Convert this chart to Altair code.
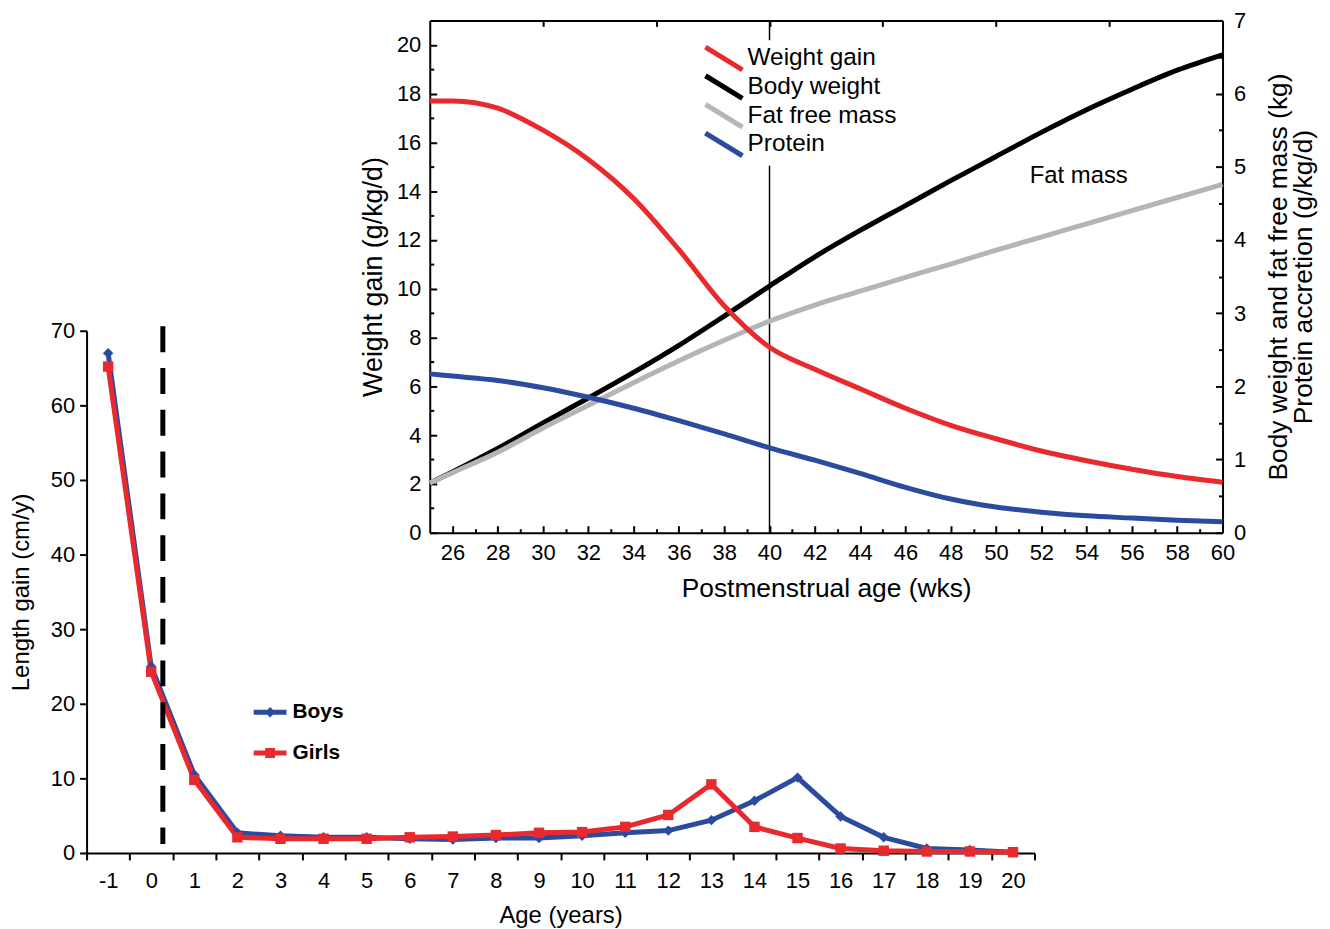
import altair as alt
import pandas as pd

# ---------------- main chart data (length gain) ----------------
AGE_YEARS = list(range(-1, 21))
BOYS_GAIN = [67.0, 25.0, 10.5, 2.7, 2.3, 2.1, 2.1, 1.9, 1.8, 2.0, 2.0, 2.3, 2.7, 3.0, 4.4, 7.0, 10.1, 4.9, 2.1, 0.6, 0.4, 0.1]
GIRLS_GAIN = [65.2, 24.3, 9.8, 2.1, 1.9, 1.9, 1.9, 2.1, 2.2, 2.4, 2.7, 2.8, 3.5, 5.1, 9.2, 3.5, 2.0, 0.6, 0.3, 0.2, 0.2, 0.1]
SEXES = ["Boys", "Girls"]
SEX_COLORS = ["#2A4B9E", "#E8292E"]
LENGTH_TICKS = [0, 10, 20, 30, 40, 50, 60, 70]
BIRTH_LINE_AGE = [0.27]
BIRTH_LINE_LOW = [1.2]
BIRTH_LINE_HIGH = [70.6]

# ---------------- inset data ----------------
WEEKS = [25, 26, 28, 30, 32, 34, 36, 38, 40, 42, 44, 46, 48, 50, 52, 54, 56, 58, 60]
WEIGHT_GAIN = [17.7, 17.7, 17.4, 16.5, 15.3, 13.7, 11.6, 9.3, 7.6, 6.7, 5.9, 5.1, 4.4, 3.85, 3.35, 2.95, 2.6, 2.3, 2.07]
BODY_WEIGHT = [0.68, 0.83, 1.15, 1.50, 1.84, 2.19, 2.56, 2.96, 3.37, 3.77, 4.13, 4.47, 4.81, 5.14, 5.47, 5.78, 6.06, 6.32, 6.53]
FAT_FREE_MASS = [0.68, 0.82, 1.10, 1.43, 1.74, 2.05, 2.35, 2.63, 2.89, 3.11, 3.30, 3.49, 3.67, 3.86, 4.04, 4.22, 4.40, 4.58, 4.76]
PROTEIN = [2.17, 2.14, 2.08, 1.98, 1.85, 1.70, 1.53, 1.35, 1.16, 0.99, 0.81, 0.62, 0.46, 0.35, 0.28, 0.23, 0.20, 0.17, 0.15]
SERIES = ["Weight gain", "Body weight", "Fat free mass", "Protein"]
SERIES_COLORS = ["#E8292E", "#000000", "#B3B5B7", "#2A4B9E"]
WEEK_LABEL_TICKS = list(range(26, 61, 2))
WEEK_MINOR_TICKS = list(range(27, 60, 2))
WEEK_TOP_TICKS = [30, 35, 40, 45, 50, 55]
GAIN_TICKS = list(range(0, 21, 2))
GAIN_MINOR_TICKS = list(range(1, 21, 2))
KG_TICKS = [0, 1, 2, 3, 4, 5, 6, 7]
KG_MINOR_TICKS = [0.5, 1.5, 2.5, 3.5, 4.5, 5.5, 6.5]
TERM_WEEK = [40]
FAT_MASS_TEXT = ["Fat mass"]
FAT_MASS_WEEK = [53.65]
FAT_MASS_GAIN = [14.6]

FONT = "Liberation Sans"
W, H = 1142, 837

BOYS_PATH = "M-1,-0.15L1,-0.15L1,0.15L-1,0.15Z M0,-0.32L0.32,0L0,0.32L-0.32,0Z"
GIRLS_PATH = "M-1,-0.15L1,-0.15L1,0.15L-1,0.15Z M-0.3,-0.3L0.3,-0.3L0.3,0.3L-0.3,0.3Z"
SLANT_BAND_PATH = "M-1.66,-0.77L1.44,1.13L1.66,0.77L-1.44,-1.13Z"

MX = alt.Scale(domain=[-1.5, 20.5], range=[0, 953], nice=False, zero=False)
MY = alt.Scale(domain=[0, 70], range=[837, 312], nice=False, zero=False)
IX = alt.Scale(domain=[25, 60], range=[345, 1142], nice=False, zero=False)
IYL = alt.Scale(domain=[0, 21], range=[515, 0], nice=False, zero=False)
IYR = alt.Scale(domain=[0, 7], range=[515, 0], nice=False, zero=False)

main_df = pd.DataFrame({
    "age": AGE_YEARS * 2,
    "gain": BOYS_GAIN + GIRLS_GAIN,
    "sex": [SEXES[0]] * len(AGE_YEARS) + [SEXES[1]] * len(AGE_YEARS),
})
boys_df = main_df[main_df.sex == SEXES[0]]
girls_df = main_df[main_df.sex == SEXES[1]]
dash_df = pd.DataFrame({"age": BIRTH_LINE_AGE, "lo": BIRTH_LINE_LOW, "hi": BIRTH_LINE_HIGH})

inset_df = pd.DataFrame({
    "week": WEEKS, "wg": WEIGHT_GAIN, "bw": BODY_WEIGHT, "ffm": FAT_FREE_MASS, "prot": PROTEIN,
})
term_df = pd.DataFrame({"week": TERM_WEEK, "lo": [0], "hi": [21]})
text_df = pd.DataFrame({"week": FAT_MASS_WEEK, "g": FAT_MASS_GAIN, "t": FAT_MASS_TEXT})
series_df = pd.DataFrame({"series": SERIES})

main_tick_pos = [a - 0.5 for a in AGE_YEARS] + [AGE_YEARS[-1] + 0.5]

# ---------------- main chart layers ----------------
main_x_axis = alt.Axis(
    orient="bottom", values=main_tick_pos,
    labelExpr="datum.value > 20 ? '' : '' + (datum.value + 0.5)",
    labelOffset=21.66, labelOverlap=False, labelFlush=False, labelBound=False,
    tickSize=7, tickWidth=2, domainWidth=2, labelFontSize=22, labelPadding=11,
    title="Age (years)", titleFontSize=24, titlePadding=12,
)
main_y_axis = alt.Axis(
    orient="left", values=LENGTH_TICKS, tickSize=7, tickWidth=2, domainWidth=2,
    labelFontSize=22, labelPadding=5, title="Length gain (cm/y)", titleFontSize=24, titlePadding=17,
)

main_lines = alt.Chart(main_df).mark_line(strokeWidth=5).encode(
    x=alt.X("age:Q", scale=MX, axis=main_x_axis),
    y=alt.Y("gain:Q", scale=MY, axis=main_y_axis),
    color=alt.Color("sex:N", scale=alt.Scale(domain=SEXES, range=SEX_COLORS), legend=None),
)
boys_pts = alt.Chart(boys_df).mark_point(filled=True, opacity=1, shape="diamond", size=110, color=SEX_COLORS[0]).encode(
    x=alt.X("age:Q", scale=MX, axis=None), y=alt.Y("gain:Q", scale=MY, axis=None))
girls_pts = alt.Chart(girls_df).mark_point(filled=True, opacity=1, shape="square", size=110, color=SEX_COLORS[1]).encode(
    x=alt.X("age:Q", scale=MX, axis=None), y=alt.Y("gain:Q", scale=MY, axis=None))

legend_props = dict(
    orient="none", legendX=168, legendY=679, title=None, symbolSize=1089, symbolStrokeWidth=0,
    symbolOpacity=1, labelFontSize=21, labelFontWeight="bold", labelFont=FONT, labelColor="black",
    labelOffset=6, rowPadding=14, padding=0,
)
main_legend = alt.Chart(main_df).mark_point(filled=True, opacity=0).encode(
    x=alt.X("age:Q", scale=MX, axis=None), y=alt.Y("gain:Q", scale=MY, axis=None),
    color=alt.Color("sex:N", scale=alt.Scale(domain=SEXES, range=SEX_COLORS), legend=alt.Legend(**legend_props)),
    shape=alt.Shape("sex:N", scale=alt.Scale(domain=SEXES, range=[BOYS_PATH, GIRLS_PATH]), legend=alt.Legend(**legend_props)),
)
dash = alt.Chart(dash_df).mark_rule(strokeWidth=5, strokeDash=[26, 16], color="black").encode(
    x=alt.X("age:Q", scale=MX, axis=None), y=alt.Y("hi:Q", scale=MY, axis=None), y2="lo:Q")

# ---------------- inset layers ----------------
ax_bottom_labels = alt.Axis(orient="bottom", offset=-322, values=WEEK_LABEL_TICKS, ticks=False, domainWidth=2,
                            labelFontSize=22, labelPadding=10, labelOverlap=False, labelFlush=False,
                            title="Postmenstrual age (wks)", titleFontSize=26.5, titlePadding=12)
ax_bottom_major = alt.Axis(orient="top", offset=-515, values=WEEK_LABEL_TICKS, labels=False, domain=False,
                           tickSize=7, tickWidth=2, title=None)
ax_bottom_minor = alt.Axis(orient="top", offset=-515, values=WEEK_MINOR_TICKS, labels=False, domain=False,
                           tickSize=4, tickWidth=2, title=None)
ax_top_frame = alt.Axis(orient="bottom", offset=-837, values=WEEK_TOP_TICKS, labels=False, domainWidth=2,
                        tickSize=6, tickWidth=2, title=None)
ax_left_labels = alt.Axis(orient="left", offset=-345, values=GAIN_TICKS, ticks=False, domainWidth=2,
                          labelFontSize=22, labelPadding=9, labelOverlap=False, labelFlush=False,
                          title="Weight gain (g/kg/d)", titleFontSize=27, titlePadding=9)
ax_left_major = alt.Axis(orient="right", offset=-797, values=GAIN_TICKS, labels=False, domain=False,
                         tickSize=7, tickWidth=2, title=None)
ax_left_minor = alt.Axis(orient="right", offset=-797, values=GAIN_MINOR_TICKS, labels=False, domain=False,
                         tickSize=4, tickWidth=2, title=None)
ax_right_labels = alt.Axis(orient="right", values=KG_TICKS, ticks=False, domainWidth=2,
                           labelFontSize=22, labelPadding=11, labelOverlap=False, labelFlush=False,
                           title=["Body weight and fat free mass (kg)", "Protein accretion (g/kg/d)"],
                           titleFontSize=26.5, titleAngle=270, titleBaseline="top", titleLineHeight=25,
                           titleAlign="center", titleX=43, titleY=257.5)
ax_right_major = alt.Axis(orient="left", offset=-1142, values=KG_TICKS, labels=False, domain=False,
                          tickSize=7, tickWidth=2, title=None)
ax_right_minor = alt.Axis(orient="left", offset=-1142, values=KG_MINOR_TICKS, labels=False, domain=False,
                          tickSize=4, tickWidth=2, title=None)

term_line = alt.Chart(term_df).mark_rule(strokeWidth=1.5, color="black").encode(
    x=alt.X("week:Q", scale=IX, axis=None),
    y=alt.Y("hi:Q", scale=IYL, axis=ax_left_major), y2="lo:Q")
bw_line = alt.Chart(inset_df).mark_line(strokeWidth=5, color=SERIES_COLORS[1], interpolate="monotone").encode(
    x=alt.X("week:Q", scale=IX, axis=ax_bottom_labels),
    y=alt.Y("bw:Q", scale=IYR, axis=ax_right_labels))
ffm_line = alt.Chart(inset_df).mark_line(strokeWidth=5, color=SERIES_COLORS[2], interpolate="monotone").encode(
    x=alt.X("week:Q", scale=IX, axis=ax_bottom_major),
    y=alt.Y("ffm:Q", scale=IYR, axis=ax_right_major))
prot_line = alt.Chart(inset_df).mark_line(strokeWidth=5, color=SERIES_COLORS[3], interpolate="monotone").encode(
    x=alt.X("week:Q", scale=IX, axis=ax_bottom_minor),
    y=alt.Y("prot:Q", scale=IYR, axis=ax_right_minor))
wg_line = alt.Chart(inset_df).mark_line(strokeWidth=5, color=SERIES_COLORS[0], interpolate="monotone").encode(
    x=alt.X("week:Q", scale=IX, axis=ax_top_frame),
    y=alt.Y("wg:Q", scale=IYL, axis=ax_left_labels))
fat_text = alt.Chart(text_df).mark_text(fontSize=24, font=FONT, align="center", baseline="middle", color="black").encode(
    x=alt.X("week:Q", scale=IX, axis=None),
    y=alt.Y("g:Q", scale=IYL, axis=ax_left_minor),
    text="t:N")
inset_legend = alt.Chart(series_df).mark_point(filled=True, opacity=0).encode(
    color=alt.Color("series:N", scale=alt.Scale(domain=SERIES, range=SERIES_COLORS),
                    legend=alt.Legend(orient="none", legendX=622.5, legendY=20, title=None,
                                      symbolType=SLANT_BAND_PATH, symbolSize=576, symbolStrokeWidth=0,
                                      symbolOpacity=1, labelFontSize=24.5, labelFont=FONT, labelColor="black",
                                      labelOffset=11.5, rowPadding=0.8, padding=6, fillColor="white",
                                      strokeColor="white", labelLimit=400)))

chart = alt.layer(
    main_lines, boys_pts, girls_pts, dash, main_legend,
    term_line, bw_line, ffm_line, prot_line, wg_line, fat_text, inset_legend,
).resolve_scale(
    x="independent", y="independent", color="independent", shape="independent",
).properties(
    width=W, height=H,
    padding={"left": 79, "top": 10, "right": 100, "bottom": 82},
    autosize=alt.AutoSizeParams(type="none"),
).configure(font=FONT).configure_view(stroke=None).configure_axis(
    domainColor="black", tickColor="black", labelColor="black", titleColor="black",
    titleFontWeight="normal", grid=False, labelFont=FONT, titleFont=FONT,
)

chart.save("out.html", embed_options={"renderer": "svg", "actions": False})
